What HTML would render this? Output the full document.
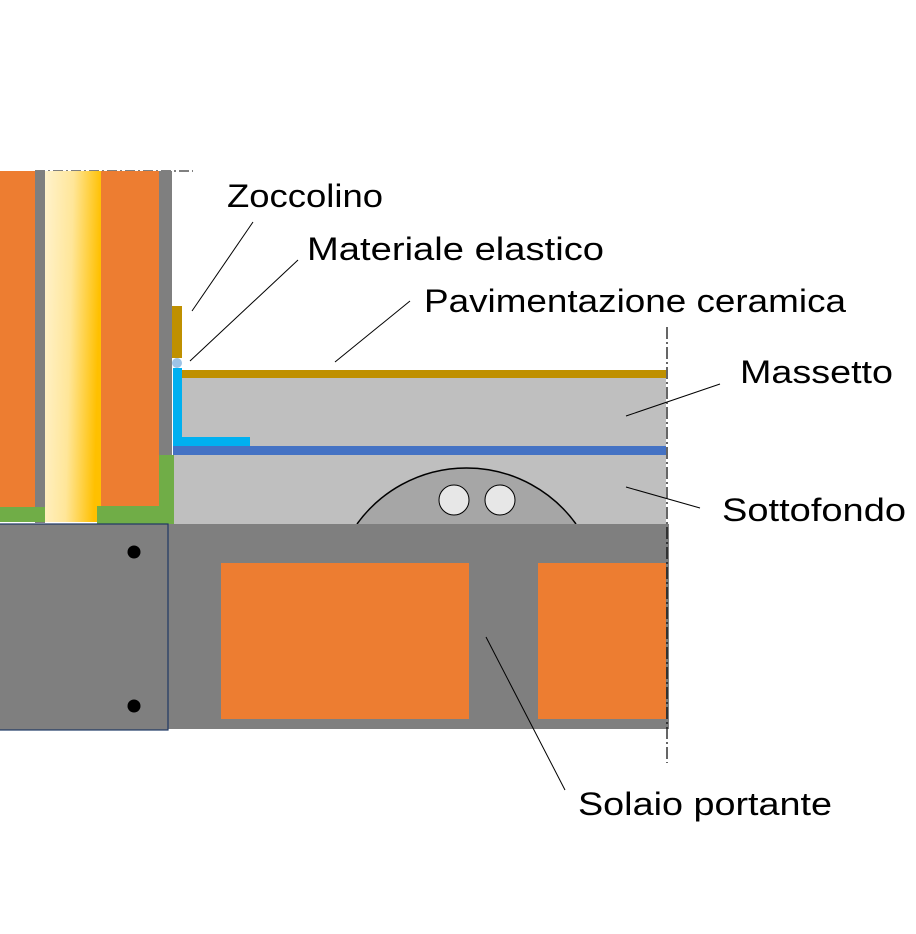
<!DOCTYPE html>
<html><head><meta charset="utf-8"><style>html,body{margin:0;padding:0;background:#fff;}svg{display:block}</style></head>
<body>
<svg width="916" height="934" viewBox="0 0 916 934" xmlns="http://www.w3.org/2000/svg">
<defs>
<linearGradient id="yg" x1="0" y1="0" x2="1" y2="0.15">
<stop offset="0" stop-color="#fff2cc"/><stop offset="0.5" stop-color="#ffe699"/><stop offset="1" stop-color="#ffc000"/>
</linearGradient>
</defs>
<line x1="35" y1="171" x2="193" y2="171" stroke="#000" stroke-width="1" stroke-dasharray="10,3,2,3"/>
<rect x="0" y="171" width="35" height="336" fill="#ed7d31"/>
<rect x="35" y="171" width="10" height="352" fill="#7f7f7f"/>
<rect x="45" y="171" width="56" height="351" fill="url(#yg)"/>
<rect x="101" y="171" width="58" height="335" fill="#ed7d31"/>
<rect x="159" y="171" width="13" height="285" fill="#7f7f7f"/>
<rect x="0" y="507" width="45" height="15" fill="#70ad47"/>
<rect x="97" y="506" width="77" height="18" fill="#70ad47"/>
<rect x="159" y="455" width="15" height="69" fill="#70ad47"/>
<rect x="172" y="306" width="10" height="52" fill="#bf9000"/>
<circle cx="177" cy="363" r="5" fill="#9dc3e6"/>
<rect x="182" y="378" width="484" height="68" fill="#bfbfbf"/>
<rect x="182" y="370" width="484" height="8" fill="#bf9000"/>
<rect x="173" y="368" width="9" height="78" fill="#00b0f0"/>
<rect x="173" y="437" width="77" height="9" fill="#00b0f0"/>
<rect x="173" y="446" width="493" height="9" fill="#4472c4"/>
<rect x="174" y="455" width="492" height="69" fill="#bfbfbf"/>
<path d="M357,524 A135,135 0 0 1 576,524 Z" fill="#a6a6a6"/>
<path d="M357,524 A135,135 0 0 1 576,524" fill="none" stroke="#000" stroke-width="1.5"/>
<circle cx="454" cy="500" r="15" fill="#e7e7e7" stroke="#000" stroke-width="1"/>
<circle cx="500" cy="500" r="15" fill="#e7e7e7" stroke="#000" stroke-width="1"/>
<rect x="0" y="524" width="669" height="205" fill="#7f7f7f"/>
<rect x="-1" y="524" width="169" height="206" fill="#7f7f7f" stroke="#1f3864" stroke-width="1.2"/>
<rect x="221" y="563" width="248" height="156" fill="#ed7d31"/>
<rect x="538" y="563" width="128" height="156" fill="#ed7d31"/>
<circle cx="134" cy="552" r="6.5" fill="#000"/>
<circle cx="134" cy="706" r="6.5" fill="#000"/>
<line x1="667" y1="327" x2="667" y2="763" stroke="#000" stroke-width="1.2" stroke-dasharray="12,3,2,3"/>
<g stroke="#000" stroke-width="1">
<line x1="253" y1="222" x2="192" y2="311"/>
<line x1="298" y1="260" x2="190" y2="361"/>
<line x1="410" y1="301" x2="335" y2="362"/>
<line x1="720" y1="384" x2="626" y2="416"/>
<line x1="700" y1="508" x2="626" y2="487"/>
<line x1="565" y1="790" x2="486" y2="637"/>
</g>
<g font-family="Liberation Sans, sans-serif" font-size="32" fill="#000">
<text x="227" y="207" textLength="156" lengthAdjust="spacingAndGlyphs">Zoccolino</text>
<text x="307" y="260" textLength="297" lengthAdjust="spacingAndGlyphs">Materiale elastico</text>
<text x="424" y="312" textLength="422" lengthAdjust="spacingAndGlyphs">Pavimentazione ceramica</text>
<text x="740" y="383" textLength="153" lengthAdjust="spacingAndGlyphs">Massetto</text>
<text x="722" y="521" textLength="184" lengthAdjust="spacingAndGlyphs">Sottofondo</text>
<text x="578" y="815" textLength="254" lengthAdjust="spacingAndGlyphs">Solaio portante</text>
</g>
</svg>
</body></html>
